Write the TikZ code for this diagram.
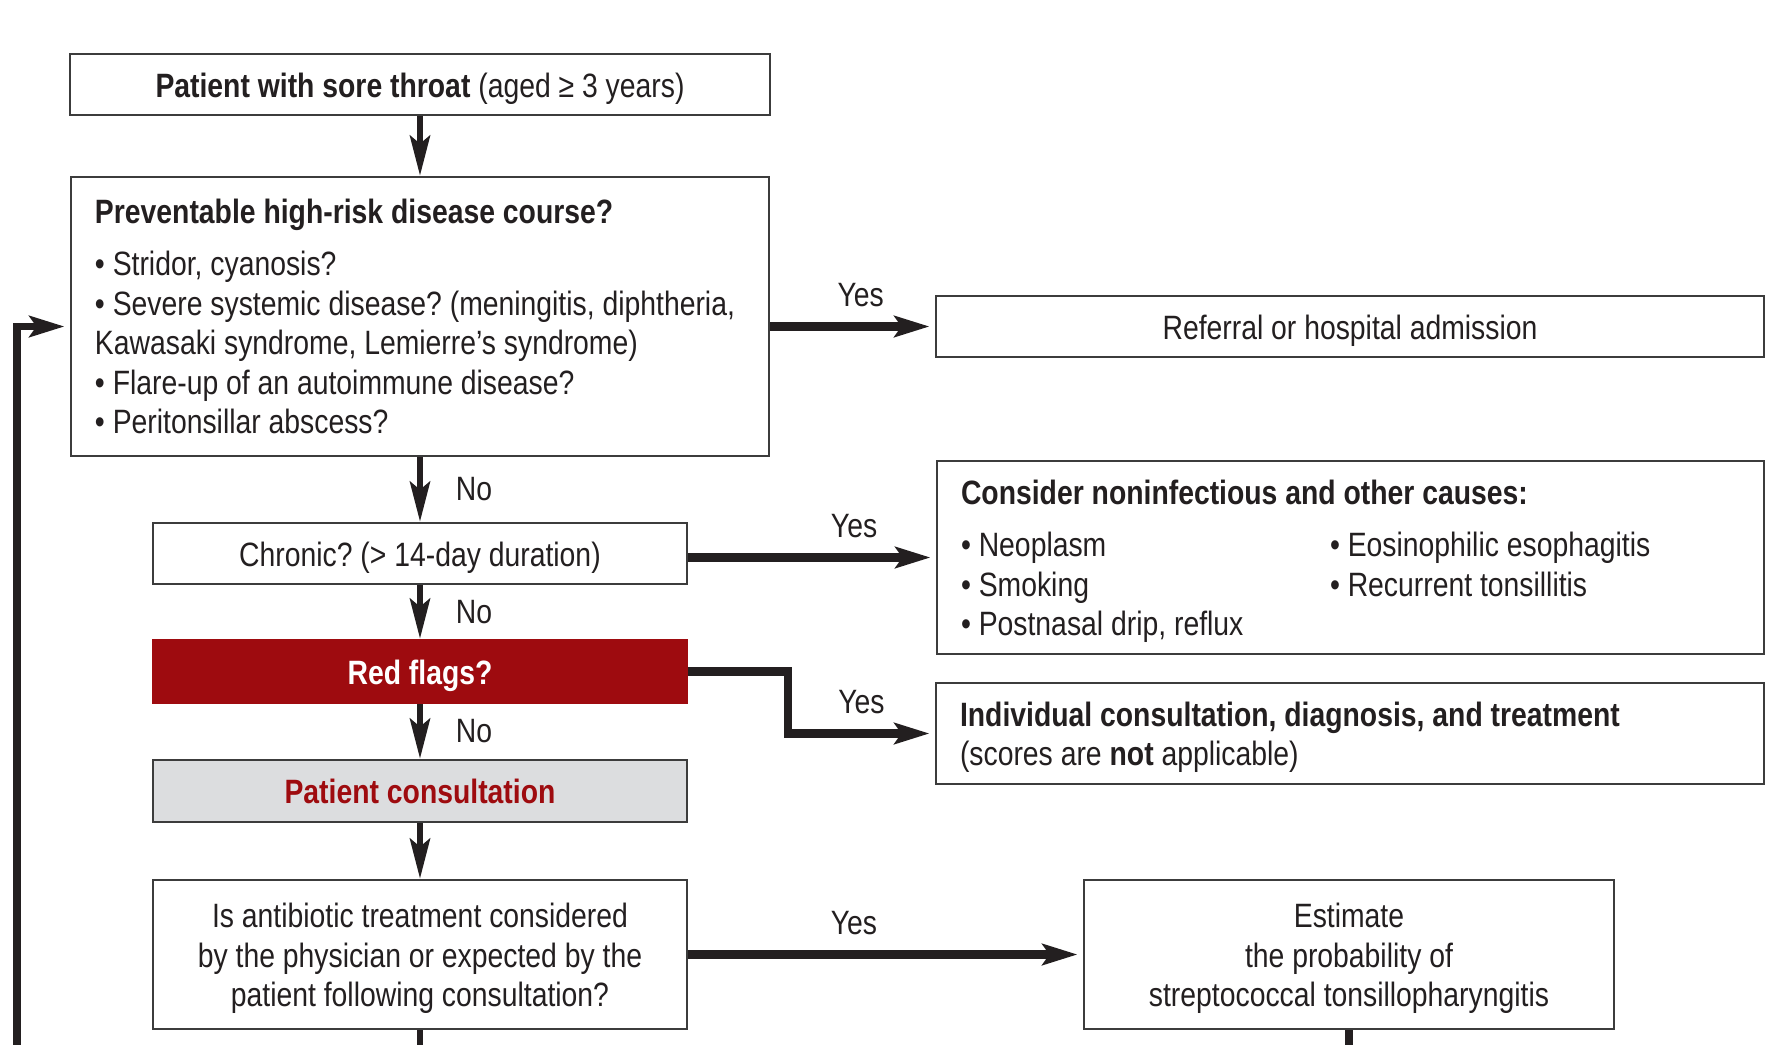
\documentclass[tikz,border=0pt]{standalone}
\usepackage{fontspec}
\setmainfont{Liberation Sans}[FakeStretch=0.84]
\usepackage{tikz}
\usetikzlibrary{arrows.meta,positioning,calc}
\definecolor{flagred}{RGB}{158,11,15}
\definecolor{consultgray}{RGB}{220,221,223}
\definecolor{boxline}{RGB}{60,60,60}
\definecolor{ink}{RGB}{35,31,32}
\frenchspacing

\begin{document}
\begin{tikzpicture}[
    font=\fontsize{9.6}{11.25}\selectfont,
    plainbox/.style={rectangle, draw=boxline, line width=0.7pt, fill=white, text=ink,
                 minimum height=0.61cm, inner sep=0pt, align=center},
    box/.style={plainbox, execute at begin node={\rule{0pt}{9.2pt}}},
    downarr/.style={-{Stealth[length=0.40cm, width=0.20cm, inset=0.08cm]}, line width=1.85pt, ink},
    yesarr/.style={-{Stealth[length=0.35cm, width=0.21cm, inset=0.07cm]}, line width=2.3pt, ink, shorten >=1.5pt},
    nolbl/.style={right=0.21cm, text=ink},
    yeslbl/.style={above=0.04cm, text=ink}
  ]
    \useasboundingbox (0,0) rectangle (17.89,-10.45);

    \node[box, minimum width=7.00cm] (start) at (4.20,-0.845)
      {\textbf{Patient with sore throat} (aged ≥ 3 years)};
    \node[plainbox, minimum width=6.98cm, minimum height=2.79cm, text width=6.50cm, align=flush left] (risk) at (4.20,-3.165)
      {\textbf{Preventable high-risk disease course?}\\[0.13cm]
       • Stridor, cyanosis?\\
       • Severe systemic disease? (meningitis, diphtheria,\\
       Kawasaki syndrome, Lemierre’s syndrome)\\
       • Flare-up of an autoimmune disease?\\
       • Peritonsillar abscess?};
    \node[box, minimum width=8.28cm] (referral) at (13.50,-3.265) {Referral or hospital admission};
    \node[box, minimum width=5.34cm] (chronic) at (4.20,-5.535) {Chronic? (> 14-day duration)};
    \node[box, minimum width=8.27cm, minimum height=1.93cm, text width=7.79cm, align=flush left] (causes) at (13.505,-5.575)
      {\textbf{Consider noninfectious and other causes:}\\[0.13cm]
       \makebox[3.69cm][l]{• Neoplasm}• Eosinophilic esophagitis\\
       \makebox[3.69cm][l]{• Smoking}• Recurrent tonsillitis\\
       • Postnasal drip, reflux};
    \node[box, draw=flagred, fill=flagred, text=white, minimum width=5.34cm, minimum height=0.63cm] (redflags) at (4.20,-6.715)
      {\textbf{Red flags?}};
    \node[box, minimum width=8.28cm, minimum height=1.01cm, text width=7.80cm, align=flush left] (individual) at (13.50,-7.335)
      {\textbf{Individual consultation, diagnosis, and treatment}\\
       (scores are \textbf{not} applicable)};
    \node[plainbox, fill=consultgray, text=flagred, minimum width=5.34cm, minimum height=0.62cm] (consult) at (4.20,-7.91)
      {\textbf{Patient consultation}};
    \node[box, minimum width=5.34cm, minimum height=1.49cm, text width=5.20cm, align=flush center] (antibiotic) at (4.20,-9.545)
      {Is antibiotic treatment considered\\by the physician or expected by the\\patient following consultation?};
    \node[box, minimum width=5.30cm, minimum height=1.49cm, text width=5.20cm, align=flush center] (estimate) at (13.49,-9.545)
      {Estimate\\the probability of\\streptococcal tonsillopharyngitis};

    \coordinate (loopend) at (0.17,-10.45);

    \draw[downarr] (start) -- (risk);
    \draw[downarr] (risk) -- node[nolbl] (no1) {No} (chronic);
    \draw[downarr] (chronic) -- node[nolbl] (no2) {No} (redflags);
    \draw[downarr] (redflags) -- node[nolbl] (no3) {No} (consult);
    \draw[downarr] (consult) -- (antibiotic);

    \draw[yesarr] (risk.east |- referral) -- node[yeslbl, pos=0.55] (yes1) {Yes} (referral);
    \draw[yesarr] (chronic.east |- causes.west) -- node[yeslbl, pos=0.67] (yes2) {Yes} (causes.west);
    \draw[yesarr] (redflags.east) -- ++(1.0,0) |- node[yeslbl, pos=0.75] (yes3) {Yes} (individual.west);
    \draw[yesarr] (antibiotic) -- node[yeslbl, pos=0.42] (yes4) {Yes} (estimate);

    \draw[yesarr, line width=2pt] (loopend) |- (risk.west |- referral);
    \draw[ink, line width=1.6pt] (antibiotic) -- (antibiotic.south |- loopend);
    \draw[ink, line width=2.3pt] (estimate) -- (estimate.south |- loopend);
  \end{tikzpicture}
\end{document}
